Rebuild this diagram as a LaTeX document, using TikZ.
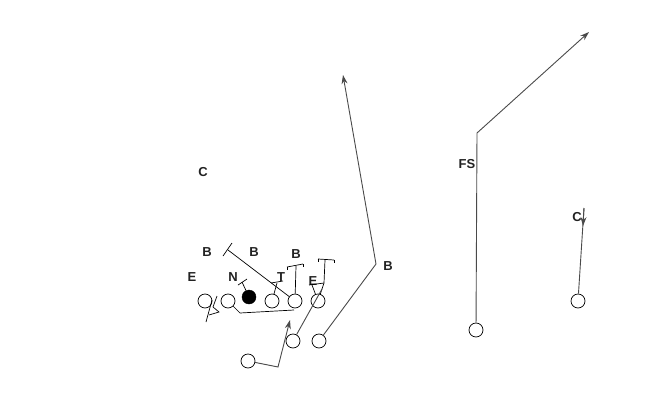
\documentclass[tikz,border=0pt]{standalone}
\usepackage{fontspec}
\setmainfont{Liberation Sans}
\usetikzlibrary{arrows.meta}
\definecolor{labc}{HTML}{222222}
\definecolor{routec}{HTML}{4A4A4A}
\begin{document}
\begin{tikzpicture}[x=1pt,y=-1pt,
  player/.style={circle,draw=black,line width=0.7pt,minimum size=14pt,inner sep=0pt,fill=white},
  center/.style={circle,draw=black,fill=black,minimum size=14pt,inner sep=0pt},
  lab/.style={font=\fontsize{13}{14}\selectfont\bfseries,text=labc,inner sep=0pt},
  route/.style={draw=routec,line width=0.9pt},
  blk/.style={draw=black,line width=0.7pt},
  arr/.style={-{Stealth[length=9pt,width=6pt]}}]
\useasboundingbox (0,0) rectangle (659,407);
% labels
\node[lab] (lC) at (203,172) {C};
\node[lab] (lB1) at (207,252) {B};
\node[lab] (lB2) at (254,252) {B};
\node[lab] (lB3) at (296,254) {B};
\node[lab] (lE1) at (192,277) {E};
\node[lab] (lN) at (233,277) {N};
\node[lab] (lT) at (281,277) {T};
\node[lab] (lE2) at (313,281) {E};
\node[lab] (lB4) at (388,266) {B};
\node[lab] (lFS) at (467,164) {FS};
\node[lab] (lC2) at (577,217) {C};
% coordinates
\coordinate (gA) at (240,313);
\coordinate (gB) at (294,310);
\coordinate (bk1) at (228,250);
\coordinate (bk1a) at (223,256);
\coordinate (bk1b) at (232,243);
\coordinate (bk5) at (296,266);
\coordinate (bk5a) at (287,267);
\coordinate (bk5b) at (303,264);
\coordinate (bkN) at (242,282);
\coordinate (bkNa) at (238,285);
\coordinate (bkNb) at (247,279);
\coordinate (bkT) at (277,283);
\coordinate (bkTa) at (271,283);
\coordinate (bkTb) at (283,281);
\coordinate (bkE) at (325,260);
\coordinate (bkEa) at (318,259);
\coordinate (bkEb) at (334,260);
\coordinate (eV) at (324,283);
\coordinate (eL) at (312,285);
\coordinate (thru) at (322,289);
\coordinate (rB) at (376,264);
\coordinate (rBtip) at (343,75);
\coordinate (qb1) at (278,367);
\coordinate (qbtip) at (290,320);
\coordinate (fsC) at (477,133);
\coordinate (fsTip) at (589,32);
\coordinate (cTop) at (584,208);
\coordinate (cHead) at (583,226);
\coordinate (z1) at (217,296);
\coordinate (z2) at (213,307);
\coordinate (z3) at (219,312);
\coordinate (z4) at (209,315);
\coordinate (z5) at (212,300);
\coordinate (z6) at (206,322);
% players
\node[player] (o1) at (205,301) {};
\node[player] (o2) at (228,301) {};
\node[center] (c0) at (249,297) {};
\node[player] (o4) at (272,301) {};
\node[player] (o5) at (295,301) {};
\node[player] (o6) at (318,301) {};
\node[player] (b1) at (293,341) {};
\node[player] (b2) at (319,341) {};
\node[player] (b3) at (248,361) {};
\node[player] (fs) at (476,330) {};
\node[player] (cr) at (578,301) {};
% blocks
\draw[blk] (o2) -- (gA) -- (gB);
\draw[blk] (bk1) -- (o5);
\draw[blk] (bk1a) -- (bk1b);
\draw[blk] (o5) -- (bk5);
\draw[blk] (bk5a) -- (bk5b);
\draw[blk] (bk5a) -- ++(0,3);
\draw[blk] (bk5b) -- ++(0,3);
\draw[blk] (c0) -- (bkN);
\draw[blk] (bkNa) -- (bkNb);
\draw[blk] (o4) -- (bkT);
\draw[blk] (bkTa) -- (bkTb);
\draw[blk] (o6) -- (eV) -- (bkE);
\draw[blk] (bkEa) -- (bkEb);
\draw[blk] (bkEa) -- ++(0,3);
\draw[blk] (bkEb) -- ++(0,3);
\draw[blk] (o6) -- (eL);
\draw[blk] (eL) ++(-3,0) -- (eV);
\draw[blk] (z1) -- (z2) -- (z3) -- (z4);
\draw[blk] (z5) -- (z6);
% routes
\draw[route] (b1) -- (thru);
\draw[route,arr] (b2) -- (rB) -- (rBtip);
\draw[route,arr] (b3) -- (qb1) -- (qbtip);
\draw[route,arr] (fs) -- (fsC) -- (fsTip);
\draw[route] (cr) -- (cTop);
\draw[route,arr] (cTop) -- (cHead);
\end{tikzpicture}
\end{document}
